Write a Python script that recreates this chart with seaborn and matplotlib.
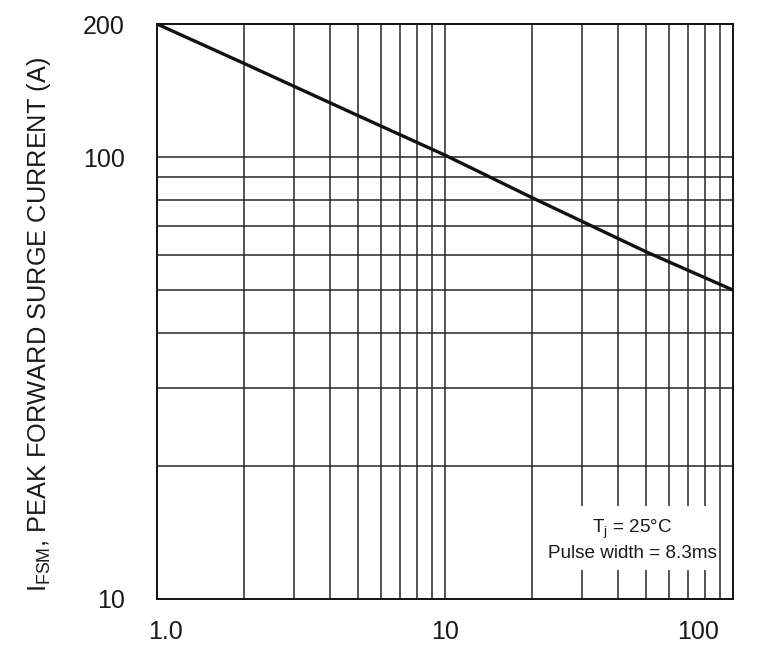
import numpy as np
import pandas as pd
import matplotlib
matplotlib.use("Agg")
import matplotlib.pyplot as plt
import matplotlib.transforms as mtransforms
from matplotlib.patches import Rectangle
from matplotlib.ticker import FixedLocator, NullFormatter
import seaborn as sns

# 데이터
cycles = [1, 2, 5, 10, 20, 50, 100]
surge_current = [200, 163, 124, 101, 81, 61, 50]

x_ticks = [1, 10, 100]
x_tick_labels = ["1.0", "10", "100"]
y_ticks = [10, 100, 200]
y_tick_labels = ["10", "100", "200"]
x_minor = [2, 3, 4, 5, 6, 7, 8, 9, 20, 30, 40, 50, 60, 70, 80, 90]
y_minor = [20, 30, 40, 50, 60, 70, 80, 90]

df = pd.DataFrame({"cycles": cycles, "current": surge_current})

# 스타일
sns.set_style("white")
plt.rcParams["font.family"] = ["Liberation Sans", "DejaVu Sans"]
plt.rcParams["mathtext.default"] = "regular"

fig = plt.figure(figsize=(7.63, 6.56), dpi=100)
ax = fig.add_axes([157 / 763, 57 / 656, 576 / 763, 575 / 656])

ax.set_xscale("log")
ax.set_yscale("log")
ax.set_xlim(1, 100)
ax.set_ylim(10, 200)

# 격자
grid_color = "#262626"
for v in x_minor + [10]:
    ax.axvline(v, color=grid_color, lw=1.1, zorder=1)
for v in y_minor + [100]:
    ax.axhline(v, color=grid_color, lw=1.1, zorder=1)

# 곡선
sns.lineplot(data=df, x="cycles", y="current", color="#111111", lw=2.4, ax=ax, zorder=4)

# 눈금
ax.xaxis.set_major_locator(FixedLocator(x_ticks))
ax.set_xticklabels(x_tick_labels)
ax.xaxis.set_minor_formatter(NullFormatter())
ax.yaxis.set_major_locator(FixedLocator(y_ticks))
ax.set_yticklabels(y_tick_labels)
ax.yaxis.set_minor_formatter(NullFormatter())
ax.tick_params(which="both", length=0)
ax.tick_params(axis="x", labelsize=18, pad=15, colors="#1a1a1a")
ax.tick_params(axis="y", labelsize=18, pad=23, colors="#1a1a1a")

# x 라벨 위치 보정 (원본 데이터시트처럼)
offsets = [9, 0, -35]
for lab, dx in zip(ax.get_xticklabels(), offsets):
    lab.set_transform(lab.get_transform() + mtransforms.ScaledTranslation(dx / 100, 0, fig.dpi_scale_trans))

ax.set_xlabel("")
ax.set_ylabel(r"I$_{FSM}$, PEAK FORWARD SURGE CURRENT (A)", fontsize=18.3, color="#1a1a1a", va="center")
ax.yaxis.set_label_coords(-0.205, 0.477)

for sp in ax.spines.values():
    sp.set_color("#111111")
    sp.set_linewidth(1.4)
    sp.set_zorder(5)

# 조건 텍스트 박스
ax.add_patch(Rectangle((0.667, 0.05), 0.304, 0.112, transform=ax.transAxes,
                       facecolor="white", edgecolor="none", zorder=2))
ax.text(0.8247, 0.1026, "T$_j$ = 25°C\nPulse width = 8.3ms", transform=ax.transAxes,
        ha="center", va="center", fontsize=13.6, linespacing=1.35, color="#1a1a1a", zorder=3)

fig.savefig("out.png", dpi=100)
